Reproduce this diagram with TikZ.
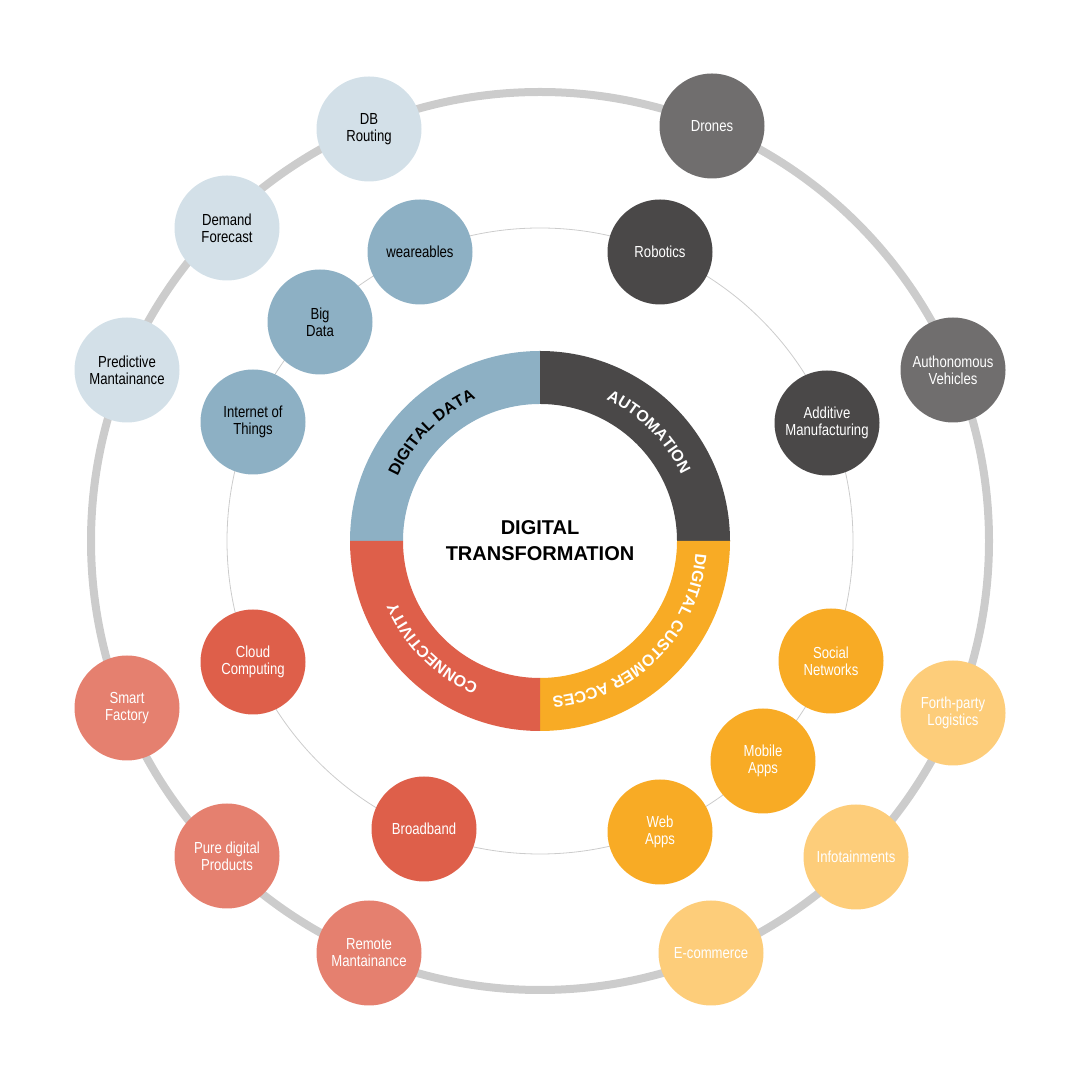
\documentclass[tikz,border=0pt]{standalone}
\usepackage{fontspec}
\setmainfont{Liberation Sans}[FakeStretch=0.82]
\newfontfamily\titlefont{Liberation Sans}
\usetikzlibrary{decorations.text}
\definecolor{lblue}{HTML}{D3E0E8}
\definecolor{mblue}{HTML}{8DB0C4}
\definecolor{dgray}{HTML}{4A4848}
\definecolor{mgray}{HTML}{706E6E}
\definecolor{oran}{HTML}{F8AB25}
\definecolor{loran}{HTML}{FDCD7A}
\definecolor{red1}{HTML}{DE5F4A}
\definecolor{red2}{HTML}{E5806F}
\definecolor{ring}{HTML}{CCCCCC}
\tikzset{
 bub/.style={circle,minimum size=105pt,inner sep=0pt,align=center,font=\fontsize{16}{17}\selectfont},
 ringtext/.style={decorate,decoration={text along path,text align=center,text={#1}}}
}
\begin{document}
\begin{tikzpicture}[x=1pt,y=1pt]
\useasboundingbox (0,0) rectangle (1081,1081);
\coordinate (c) at (540,540);
\draw[ring,line width=8pt] (c) circle[radius=449];
\draw[ring,line width=0.8pt] (c) circle[radius=313];
\fill[mblue] (c) ++(90:190) arc[start angle=90,end angle=180,radius=190] -- ++(0:53) arc[start angle=180,end angle=90,radius=137] -- cycle;
\fill[dgray] (c) ++(0:190) arc[start angle=0,end angle=90,radius=190] -- ++(0,-53) arc[start angle=90,end angle=0,radius=137] -- cycle;
\fill[oran] (c) ++(-90:190) arc[start angle=-90,end angle=0,radius=190] -- ++(-53,0) arc[start angle=0,end angle=-90,radius=137] -- cycle;
\fill[red1] (c) ++(180:190) arc[start angle=180,end angle=270,radius=190] -- ++(0,53) arc[start angle=270,end angle=180,radius=137] -- cycle;
\node[align=center,font=\titlefont\bfseries\fontsize{20}{26}\selectfont] (title) at (c) {DIGITAL\\TRANSFORMATION};
\path[ringtext={|\titlefont\bfseries\fontsize{16}{16}\selectfont|DIGITAL DATA}] (c) ++(178:156) arc[start angle=178,end angle=92,radius=156];
\path[ringtext={|\titlefont\bfseries\fontsize{16}{16}\selectfont\color{white}|AUTOMATION}] (c) ++(88:156) arc[start angle=88,end angle=2,radius=156];
\path[ringtext={|\titlefont\bfseries\fontsize{16}{16}\selectfont\color{white}|DIGITAL CUSTOMER ACCES}] (c) ++(-1:156) arc[start angle=-1,end angle=-89,radius=156];
\path[ringtext={|\titlefont\bfseries\fontsize{16}{16}\selectfont\color{white}|CONNECTIVITY}] (c) ++(268:156) arc[start angle=268,end angle=182,radius=156];
\node[bub,fill=lblue] (db) at (369,952) {DB\\Routing};
\node[bub,fill=lblue] (df) at (227,853) {Demand\\Forecast};
\node[bub,fill=lblue] (pm) at (127,711) {Predictive\\Mantainance};
\node[bub,fill=mgray,text=white] (dr) at (712,955) {Drones};
\node[bub,fill=mgray,text=white] (av) at (953,711) {Authonomous\\Vehicles};
\node[bub,fill=loran,text=white] (fl) at (953,368) {Forth-party\\Logistics};
\node[bub,fill=loran,text=white] (inf) at (856,224) {Infotainments};
\node[bub,fill=loran,text=white] (ec) at (711,128) {E-commerce};
\node[bub,fill=red2,text=white] (rm) at (369,128) {Remote\\Mantainance};
\node[bub,fill=red2,text=white] (pd) at (227,225) {Pure digital\\Products};
\node[bub,fill=red2,text=white] (sf) at (127,373) {Smart\\Factory};
\node[bub,fill=mblue] (we) at (420,829) {weareables};
\node[bub,fill=mblue] (bd) at (320,759) {Big\\Data};
\node[bub,fill=mblue] (iot) at (253,659) {Internet of\\Things};
\node[bub,fill=dgray,text=white] (rob) at (660,829) {Robotics};
\node[bub,fill=dgray,text=white] (am) at (827,658) {Additive\\Manufacturing};
\node[bub,fill=oran,text=white] (sn) at (831,420) {Social\\Networks};
\node[bub,fill=oran,text=white] (ma) at (763,320) {Mobile\\Apps};
\node[bub,fill=oran,text=white] (wa) at (660,249) {Web\\Apps};
\node[bub,fill=red1,text=white] (bb) at (424,252) {Broadband};
\node[bub,fill=red1,text=white] (cc) at (253,419) {Cloud\\Computing};
\end{tikzpicture}
\end{document}
